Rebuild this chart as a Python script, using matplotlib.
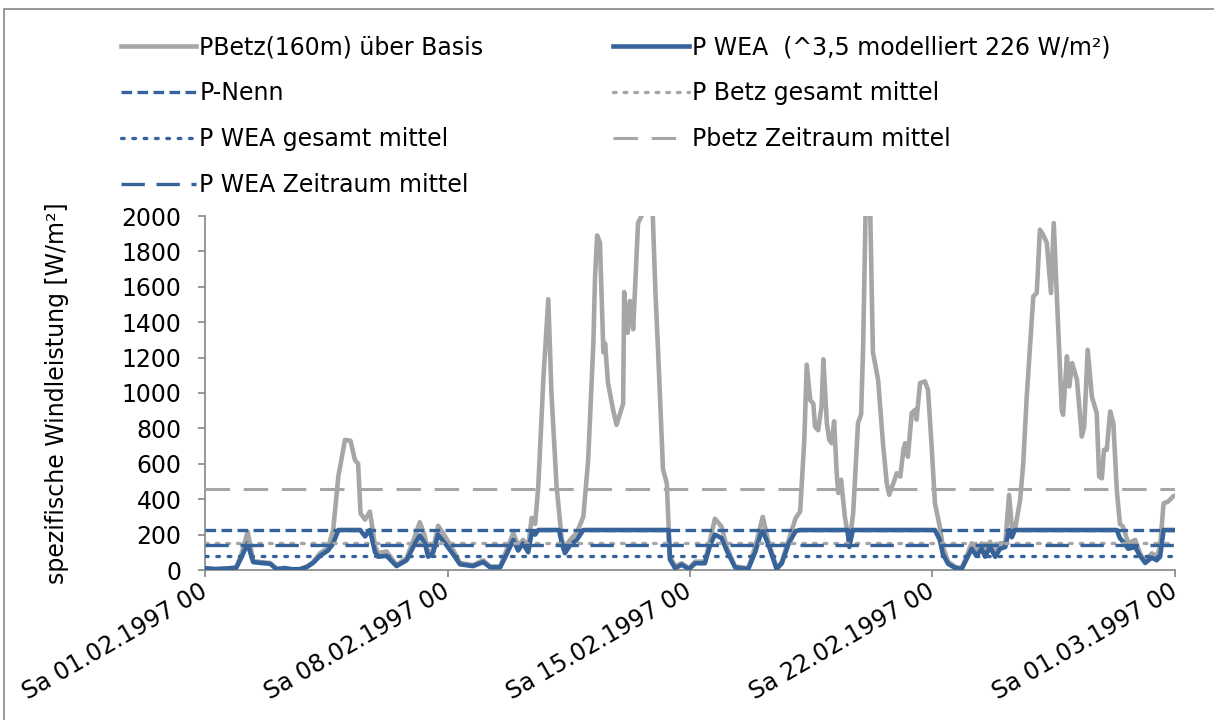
import numpy as np
import matplotlib
matplotlib.use("Agg")
from matplotlib import pyplot as plt
from matplotlib.patches import Rectangle

# x positions in days from Sa 01.02.1997 00
betz_days = [0.0, 0.3, 0.6, 0.9, 1.05, 1.23, 1.32, 1.39, 1.6, 1.88, 2.07, 2.3, 2.5, 2.74, 2.95,
             3.12, 3.32, 3.55, 3.7, 3.85, 4.04, 4.2, 4.33, 4.42, 4.49, 4.62, 4.76, 4.91, 5.0,
             5.24, 5.53, 5.82, 6.06, 6.2, 6.35, 6.44, 6.58, 6.73, 6.93, 7.16, 7.36, 7.74, 8.03,
             8.23, 8.52, 8.71, 8.9, 9.04, 9.18, 9.33, 9.43, 9.53, 9.62, 9.77, 9.91, 10.0, 10.15,
             10.3, 10.39, 10.54, 10.73, 10.92, 11.06, 11.21, 11.26, 11.32, 11.4, 11.5, 11.55,
             11.63, 11.78, 11.88, 12.07, 12.1, 12.2, 12.27, 12.36, 12.5, 12.6, 12.7, 12.9, 13.0,
             13.08, 13.22, 13.33, 13.42, 13.57, 13.76, 13.97, 14.15, 14.43, 14.58, 14.72, 14.91,
             15.06, 15.3, 15.68, 15.88, 16.1, 16.25, 16.5, 16.65, 16.85, 17.05, 17.18, 17.3,
             17.37, 17.47, 17.56, 17.61, 17.7, 17.8, 17.85, 17.95, 18.02, 18.09, 18.16, 18.24,
             18.28, 18.36, 18.47, 18.6, 18.71, 18.85, 18.94, 19.0, 19.07, 19.2, 19.28, 19.43,
             19.57, 19.68, 19.75, 19.87, 19.97, 20.07, 20.16, 20.21, 20.29, 20.4, 20.5, 20.54,
             20.64, 20.78, 20.87, 20.97, 21.07, 21.21, 21.3, 21.45, 21.65, 21.84, 21.98, 22.13,
             22.27, 22.42, 22.52, 22.66, 22.81, 22.95, 23.1, 23.21, 23.29, 23.38, 23.53, 23.62,
             23.72, 23.82, 23.91, 24.01, 24.1, 24.19, 24.3, 24.42, 24.5, 24.62, 24.73, 24.77,
             24.88, 24.95, 25.03, 25.17, 25.31, 25.38, 25.48, 25.6, 25.74, 25.81, 25.89, 25.95,
             26.03, 26.13, 26.22, 26.32, 26.41, 26.5, 26.65, 26.85, 26.99, 27.14, 27.33, 27.47,
             27.57, 27.67, 27.8, 27.94, 28.0]
betz_vals = [10, 5, 8, 15, 90, 215, 130, 50, 45, 40, 5, 12, 5, 5, 20,
             45, 95, 125, 226, 530, 735, 730, 620, 600, 320, 285, 330, 135, 95,
             105, 28, 68, 190, 270, 190, 95, 115, 250, 190, 115, 40, 28, 55,
             20, 20, 115, 210, 135, 170, 135, 295, 260, 470, 1090, 1530, 1000, 470,
             170, 130, 170, 210, 300, 620, 1280, 1660, 1890, 1850, 1230, 1280,
             1060, 905, 820, 940, 1570, 1340, 1520, 1360, 1960, 2000, 2150, 2150, 1580,
             1230, 570, 490, 75, 20, 38, 10, 47, 47, 170, 290, 245,
             130, 20, 10, 130, 300, 170, 10, 47, 170, 294, 330, 735,
             1160, 960, 940, 810, 790, 930, 1190, 830, 735, 716, 840, 530,
             435, 510, 300, 150, 320, 830, 880, 1280, 2050, 2050, 1230, 1075,
             716, 490, 425, 490, 547, 528, 680, 716, 640, 886, 905, 850,
             1056, 1066, 1018, 716, 377, 245, 132, 47, 19, 10, 75, 151,
             104, 151, 94, 160, 94, 151, 151, 424, 245, 226, 396, 603,
             980, 1282, 1546, 1565, 1923, 1895, 1848, 1565, 1960, 1414, 905, 877,
             1207, 1037, 1169, 1075, 754, 811, 1244, 980, 886, 528, 518, 679,
             679, 896, 830, 452, 260, 245, 151, 170, 94, 47, 94, 75,
             132, 377, 386, 415, 420]

wea_days = [0.0, 0.3, 0.6, 0.9, 1.05, 1.23, 1.32, 1.39, 1.6, 1.88, 2.07, 2.3, 2.5, 2.74, 2.95,
            3.12, 3.32, 3.55, 3.7, 3.85, 4.48, 4.62, 4.76, 4.91, 5.0, 5.24, 5.53, 5.82, 6.06,
            6.2, 6.35, 6.44, 6.58, 6.73, 6.93, 7.16, 7.36, 7.74, 8.03, 8.23, 8.52, 8.71, 8.9,
            9.04, 9.18, 9.33, 9.43, 9.53, 9.62, 10.22, 10.3, 10.39, 10.54, 10.73, 10.92, 13.38,
            13.42, 13.57, 13.76, 13.97, 14.15, 14.43, 14.58, 14.72, 14.91, 15.06, 15.3, 15.68,
            15.88, 16.05, 16.1, 16.25, 16.5, 16.65, 16.85, 17.05, 17.18, 18.55, 18.6, 18.7,
            21.07, 21.21, 21.3, 21.45, 21.65, 21.84, 21.98, 22.13, 22.27, 22.42, 22.52, 22.66,
            22.81, 22.95, 23.1, 23.21, 23.29, 23.38, 26.32, 26.41, 26.5, 26.65, 26.85, 26.99,
            27.14, 27.33, 27.47, 27.57, 27.67, 28.0]
wea_vals = [10, 5, 8, 12, 70, 150, 90, 45, 40, 35, 5, 10, 4, 4, 18,
            40, 80, 110, 150, 226, 226, 190, 226, 100, 75, 80, 22, 55, 150,
            195, 150, 75, 95, 200, 150, 90, 32, 22, 45, 15, 15, 90, 170,
            110, 150, 100, 210, 200, 226, 226, 150, 95, 140, 170, 226, 226,
            60, 10, 30, 5, 38, 38, 140, 200, 180, 110, 15, 5,
            100, 210, 220, 150, 5, 38, 150, 220, 226, 226, 130, 226,
            226, 170, 90, 35, 12, 5, 60, 120, 80, 120, 75, 130,
            75, 120, 130, 226, 185, 226, 226, 180, 160, 120, 130, 80,
            40, 70, 55, 75, 226, 226]

p_nenn = 226
p_betz_gesamt = 155
p_wea_gesamt = 80
p_betz_zeitraum = 460
p_wea_zeitraum = 140

tick_days = [0, 7, 14, 21, 28]
tick_labels = ["Sa 01.02.1997 00", "Sa 08.02.1997 00", "Sa 15.02.1997 00",
               "Sa 22.02.1997 00", "Sa 01.03.1997 00"]

gray = "#A6A6A6"
blue = "#36639A"

plt.rcParams["font.family"] = ["DejaVu Sans"]
plt.rcParams["font.size"] = 17

fig = plt.figure(figsize=(12.14, 7.2), dpi=100)
ax = fig.add_axes([205/1214, 1-570/720, 970/1214, 354/720])

l1, = ax.plot(betz_days, betz_vals, color=gray, lw=3.3, label="PBetz(160m) über Basis", zorder=2)
l2, = ax.plot(wea_days, wea_vals, color=blue, lw=3.3, label="P WEA  (^3,5 modelliert 226 W/m²)", zorder=3)
xs = [0, 28]
l3, = ax.plot(xs, [p_nenn]*2, color=blue, lw=2.4, dashes=(3.2, 1.6), label="P-Nenn", zorder=4)
l4, = ax.plot(xs, [p_betz_gesamt]*2, color=gray, lw=2.4, dashes=(0.8, 2.4),
              dash_capstyle="round", label="P Betz gesamt mittel", zorder=4)
l5, = ax.plot(xs, [p_wea_gesamt]*2, color=blue, lw=2.4, dashes=(0.8, 2.6),
              dash_capstyle="round", label="P WEA gesamt mittel", zorder=4)
l6, = ax.plot(xs, [p_betz_zeitraum]*2, color=gray, lw=2.2, dashes=(8, 4.5),
              label="Pbetz Zeitraum mittel", zorder=4)
l7, = ax.plot(xs, [p_wea_zeitraum]*2, color=blue, lw=2.4, dashes=(7, 3.5),
              label="P WEA Zeitraum mittel", zorder=4)

ax.set_xlim(0, 28)
ax.set_ylim(0, 2000)
ax.set_yticks(np.arange(0, 2001, 200))
ax.set_xticks(tick_days)
ax.set_xticklabels(tick_labels, rotation=30, ha="right", va="center", rotation_mode="anchor")
ax.set_ylabel("spezifische Windleistung [W/m²]", fontsize=17, labelpad=38)

for s in ["top", "right"]:
    ax.spines[s].set_visible(False)
for s in ["left", "bottom"]:
    ax.spines[s].set_color("#868686")
    ax.spines[s].set_linewidth(1.2)
ax.tick_params(axis="both", colors="#868686", labelcolor="black", length=5, width=1.2,
               labelsize=17, pad=12)
ax.tick_params(axis="x", pad=9)

handles = [l1, l3, l5, l7, l2, l4, l6]
fig.legend(handles=handles, labels=[h.get_label() for h in handles], ncol=2,
           loc="upper left", bbox_to_anchor=(0.082, 0.98), frameon=False,
           handlelength=3.2, handletextpad=0.12, labelspacing=0.92, columnspacing=5.5,
           fontsize=17)

fig.patches.append(Rectangle((0.003, -0.1), 1.2, 0.1 + 1 - 9/720, transform=fig.transFigure,
                             fill=False, edgecolor="#868686", lw=1.2))

fig.savefig("out.png", dpi=100)
